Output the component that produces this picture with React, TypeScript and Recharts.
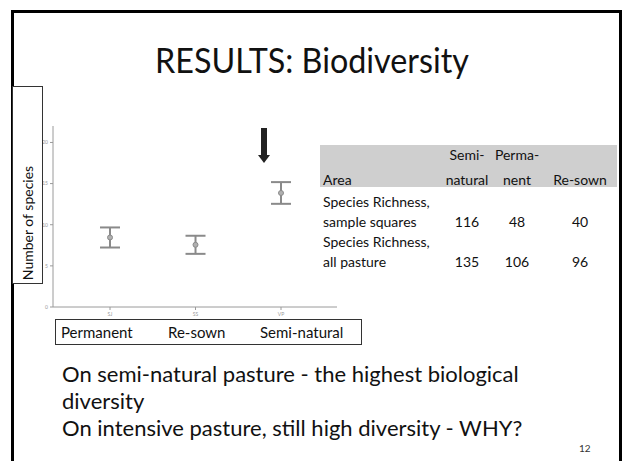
import React from 'react';
import { ScatterChart, Scatter, XAxis, YAxis, ErrorBar } from 'recharts';

// site codes on the original SPSS axis and their names
const siteCodes = ['SJ', 'SS', 'VP'];
const siteNames = ['Permanent', 'Re-sown', 'Semi-natural'];
const meanSpecies = [8.45, 7.56, 13.86];
const errSpecies = [1.22, 1.1, 1.32];
const yTicks = [0, 5, 10, 15, 20];

// table next to the chart
const tableHead = ['Semi-\nnatural', 'Perma-\nnent', 'Re-sown'];
const richnessSquares = [116, 48, 40];
const richnessPasture = [135, 106, 96];

const bullets = [
  'On semi-natural pasture - the highest biological',
  'diversity',
  'On intensive pasture, still high diversity - WHY?',
];

const FONT = 'Lato, "Open Sans", sans-serif';

const data = siteCodes.map((code, i) => ({
  x: i + 1,
  y: meanSpecies[i],
  err: errSpecies[i],
  code,
}));

const MeanDot = (props: any) => (
  <circle cx={props.cx} cy={props.cy} r={2.5} fill="#b0b0b0" stroke="#8a8a8a" strokeWidth={1} />
);

const abs = (left: number, top: number, extra: React.CSSProperties = {}): React.CSSProperties => ({
  position: 'absolute',
  left,
  top,
  whiteSpace: 'nowrap',
  ...extra,
});

export default function App() {
  const colCenters = [467, 517, 580];
  return (
    <div style={{ position: 'absolute', left: 0, top: 0, width: 622, height: 461, overflow: 'hidden', background: '#fff', fontFamily: FONT, color: '#111' }}>
      {/* slide frame */}
      <div style={abs(11, 10, { width: 611, height: 480, border: '3px solid #000', boxSizing: 'border-box' })} />

      <div style={abs(0, 40, { width: 624, textAlign: 'center', fontSize: 34, lineHeight: '40px', transform: 'scaleX(0.95)' })}>
        RESULTS: Biodiversity
      </div>

      <div style={abs(0, 0)}>
        <ScatterChart width={622} height={461} margin={{ top: 126, right: 285, bottom: 134, left: 23 }}>
          <XAxis
            type="number"
            dataKey="x"
            domain={[0.333, 3.655]}
            ticks={[1, 2, 3]}
            tickFormatter={(v: number) => siteCodes[v - 1] ?? ''}
            height={20}
            stroke="#9a9a9a"
            tickSize={3}
            tick={{ fontSize: 5, fill: '#999' }}
            allowDataOverflow
          />
          <YAxis
            type="number"
            dataKey="y"
            domain={[0, 22]}
            ticks={yTicks}
            width={30}
            stroke="#9a9a9a"
            tickSize={3}
            tick={{ fontSize: 5, fill: '#999' }}
            allowDataOverflow
          />
          <Scatter data={data} shape={MeanDot} isAnimationActive={false}>
            <ErrorBar dataKey="err" direction="y" width={10} stroke="#8a8a8a" strokeWidth={2} isAnimationActive={false} />
          </Scatter>
        </ScatterChart>
      </div>

      {/* y axis label box */}
      <div style={abs(12, 86, { width: 31, height: 198, border: '1px solid #333', boxSizing: 'border-box', background: '#fff' })}>
        <div style={abs(-85, 128, { width: 200, textAlign: 'center', fontSize: 14, lineHeight: '16px', transform: 'rotate(-90deg)' })}>
          Number of species
        </div>
      </div>

      {/* x axis names box */}
      <div style={abs(55, 319, { width: 307, height: 26, border: '1px solid #333', boxSizing: 'border-box', background: '#fff', fontSize: 15, lineHeight: '24px' })}>
        <span style={abs(5, 0)}>{siteNames[0]}</span>
        <span style={abs(112, 0)}>{siteNames[1]}</span>
        <span style={abs(204, 0)}>{siteNames[2]}</span>
      </div>

      {/* arrow */}
      <svg style={abs(250, 120)} width={30} height={50}>
        <rect x={11} y={8} width={6} height={28} fill="#222" />
        <polygon points="8,35 20,35 14,43" fill="#222" />
      </svg>

      {/* table */}
      <div style={abs(320, 145, { width: 297, height: 42, background: '#cfcfcf' })} />
      <div style={{ ...abs(0, 0), fontSize: 14, lineHeight: '20px' }}>
        <div style={abs(323, 170)}>Area</div>
        {tableHead.map((h, i) => {
          const lines = h.split('\n');
          return lines.map((ln, j) => (
            <div key={`h${i}${j}`} style={abs(colCenters[i] - 40, lines.length === 2 ? 145 + j * 25 : 170, { width: 80, textAlign: 'center' })}>
              {ln}
            </div>
          ));
        })}
        <div style={abs(323, 192)}>Species Richness,</div>
        <div style={abs(323, 212)}>sample squares</div>
        {richnessSquares.map((v, i) => (
          <div key={`s${i}`} style={abs(colCenters[i] - 30, 212, { width: 60, textAlign: 'center' })}>{v}</div>
        ))}
        <div style={abs(323, 232)}>Species Richness,</div>
        <div style={abs(323, 252)}>all pasture</div>
        {richnessPasture.map((v, i) => (
          <div key={`p${i}`} style={abs(colCenters[i] - 30, 252, { width: 60, textAlign: 'center' })}>{v}</div>
        ))}
      </div>

      {/* bullet text */}
      {bullets.map((b, i) => (
        <div key={b} style={abs(62, 361 + i * 27, { fontSize: 22, lineHeight: '26px' })}>
          {b}
        </div>
      ))}

      <div style={abs(579, 441, { fontSize: 10, lineHeight: '14px', color: '#333' })}>12</div>
    </div>
  );
}
